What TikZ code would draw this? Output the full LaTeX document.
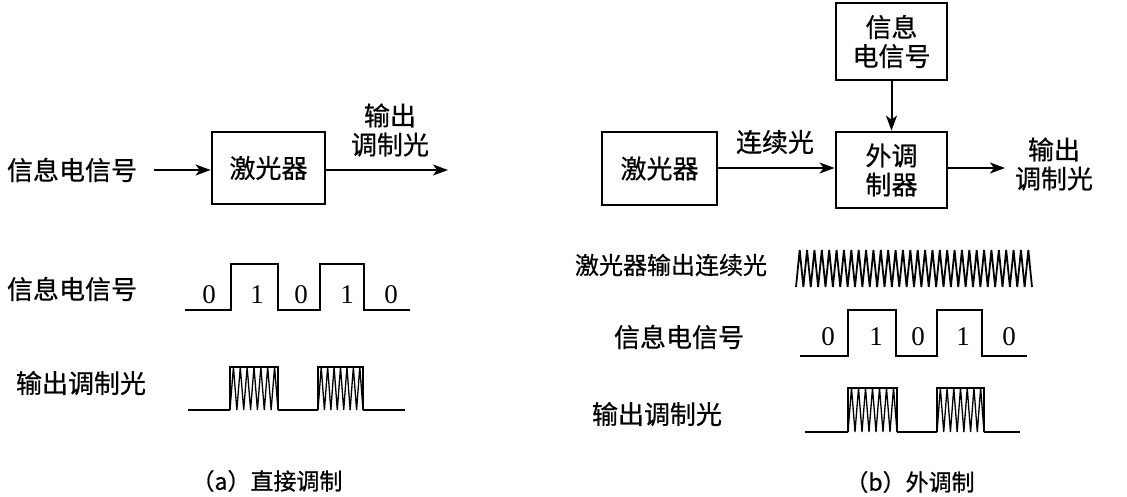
\documentclass[tikz,border=0pt]{standalone}
\usepackage{fontspec}
\setmainfont{Noto Sans CJK SC}[FakeBold=0.6]
\newfontfamily\digitfont{Liberation Serif}
\usetikzlibrary{arrows.meta}
\tikzset{
  box/.style={draw,line width=2.8pt,font=\fontsize{26}{29}\selectfont,align=center,inner sep=0pt},
  lbl/.style={font=\fontsize{26}{29}\selectfont,align=center,inner sep=0pt},
  captext/.style={font=\fontsize{23}{26}\selectfont,inner sep=0pt},
  dig/.style={font=\digitfont\fontsize{27}{30}\selectfont,inner sep=0pt},
  arr/.style={line width=2pt,-{Stealth[length=15pt,width=11pt,inset=4pt]}},
  wave/.style={line width=2.8pt},
  zig/.style={line width=1.3pt,line join=miter},
}
\newcommand\modpulse[5]{%
  \draw[wave] (#1,#3) -- (#1,#4) -- (#2,#4) -- (#2,#3);
  \pgfmathsetmacro\pw{(#2-#1)/#5}
  \draw[zig] (#1,#3) \foreach \i in {1,...,#5} { -- ({#1+(\i-0.5)*\pw},#4) -- ({#1+\i*\pw},#3) };
}
\begin{document}
\begin{tikzpicture}[x=1pt,y=-1pt]
\useasboundingbox (0,0) rectangle (1127,496);
\clip (0,0) rectangle (1127,496);
% ---------- (a) ----------
\node[lbl] (inA) at (72,170) {信息电信号};
\node[box,minimum width=113pt,minimum height=72pt] (laserA) at (268.5,168) {激光器};
\coordinate (outA) at (448,170);
\draw[arr] ([xshift=17pt]inA.east) -- (laserA.west |- inA.east);
\draw[arr] (laserA.east |- outA) -- (outA);
\node[lbl] (outAl) at (390,130) {输出\\调制光};

\node[lbl] (sigAl) at (72,289) {信息电信号};
\draw[wave] (185,310) -- (231,310) -- (231,264) -- (278,264) -- (278,310) -- (320,310) -- (320,264) -- (364,264) -- (364,310) -- (410,310);
\node[dig] (a0) at (209,295) {0};
\node[dig] (a1) at (257,295) {1};
\node[dig] (a2) at (301,295) {0};
\node[dig] (a3) at (347,295) {1};
\node[dig] (a4) at (391,295) {0};

\node[lbl] (modAl) at (81,383) {输出调制光};
\draw[wave] (188,410) -- (230,410);
\modpulse{230}{278}{410}{367}{7}
\draw[wave] (278,410) -- (318,410);
\modpulse{318}{363}{410}{367}{7}
\draw[wave] (363,410) -- (405,410);

\node[captext] (capA) at (267,481) {（a）直接调制};

% ---------- (b) ----------
\node[box,minimum width=111pt,minimum height=77pt] (sigB) at (891.5,41.5) {信息\\电信号};
\node[box,minimum width=111pt,minimum height=76pt] (modB) at (891.5,170) {外调\\制器};
\node[box,minimum width=115pt,minimum height=73pt] (laserB) at (659.5,168.5) {激光器};
\coordinate (outB) at (1005,168);
\draw[arr] (laserB.east |- outB) -- (modB.west |- outB);
\draw[arr] (sigB.south) -- (modB.north);
\draw[arr] (modB.east |- outB) -- (outB);
\node[lbl] (contB) at (775,142) {连续光};
\node[lbl] (outBl) at (1054,164) {输出\\调制光};

\node[lbl,font=\fontsize{24}{27}\selectfont] (cwBl) at (671,265) {激光器输出连续光};
\draw[line width=1.8pt,line join=miter] (796,287) \foreach \i in {1,...,32} { -- ({796+(\i-0.5)*7.375},250) -- ({796+\i*7.375},287) };

\node[lbl] (sigBl) at (679,337) {信息电信号};
\draw[wave] (800,356) -- (848,356) -- (848,310) -- (896,310) -- (896,356) -- (937,356) -- (937,310) -- (982,310) -- (982,356) -- (1027,356);
\node[dig] (b0) at (828,337) {0};
\node[dig] (b1) at (876,337) {1};
\node[dig] (b2) at (918,337) {0};
\node[dig] (b3) at (963,337) {1};
\node[dig] (b4) at (1009,337) {0};

\node[lbl] (modBl) at (657,414) {输出调制光};
\draw[wave] (805,432) -- (848,432);
\modpulse{848}{897}{432}{388}{7}
\draw[wave] (897,432) -- (937,432);
\modpulse{937}{984}{432}{388}{7}
\draw[wave] (984,432) -- (1020,432);

\node[captext] (capB) at (910,482) {（b）外调制};
\end{tikzpicture}
\end{document}
